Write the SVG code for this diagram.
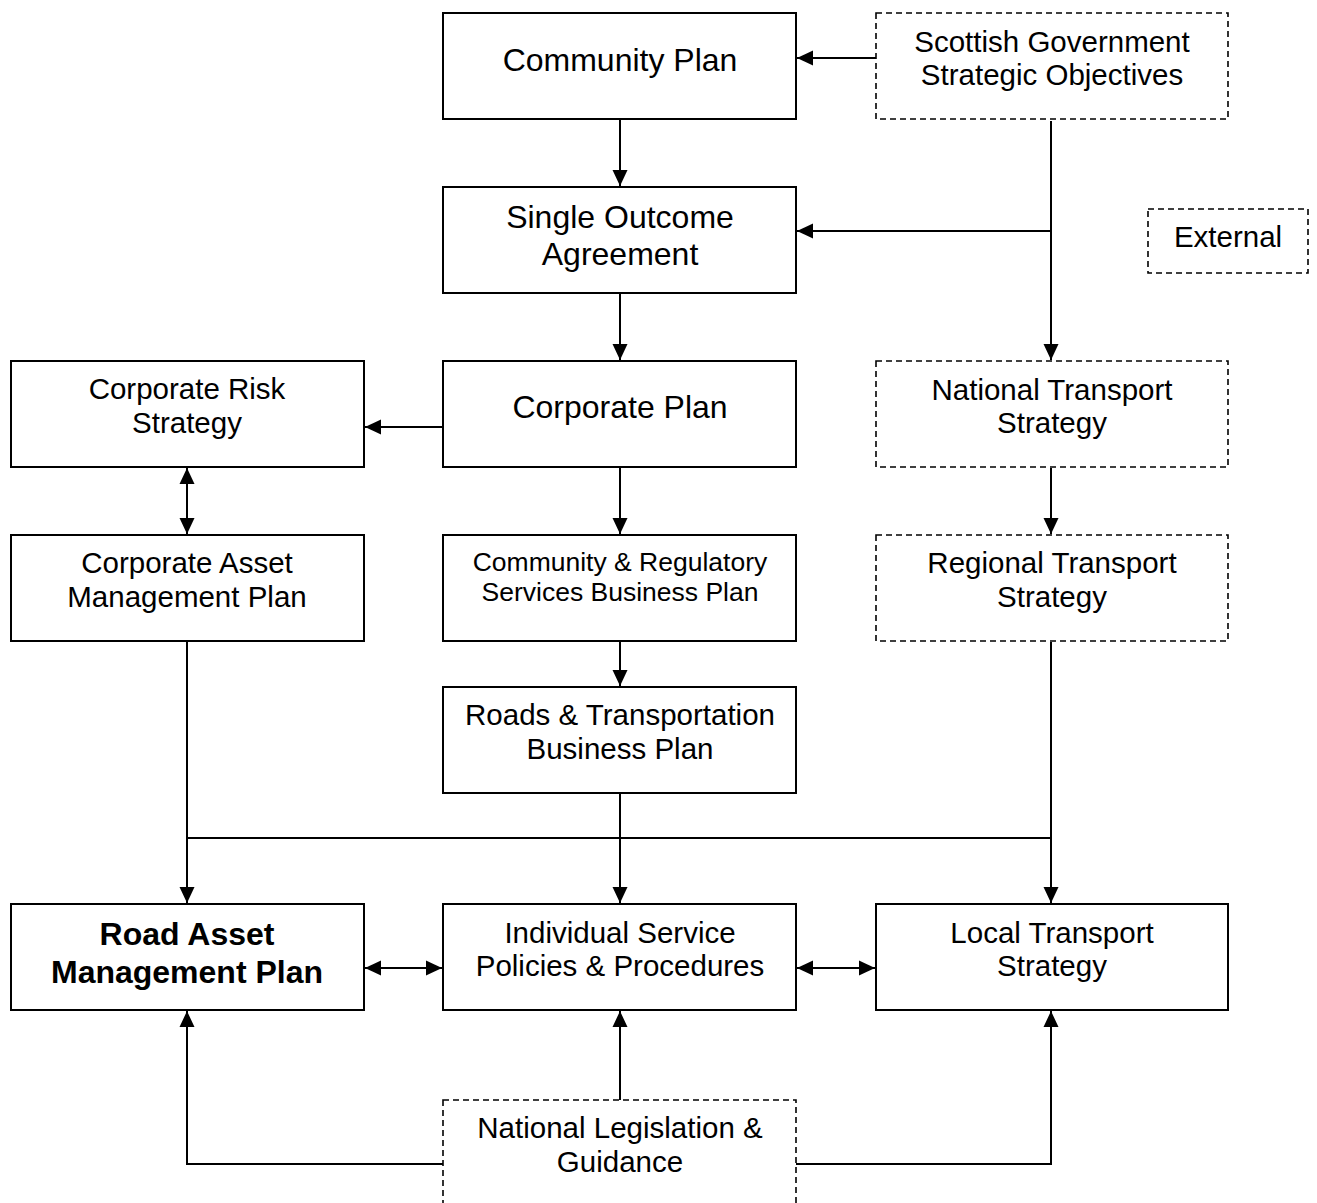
<svg xmlns="http://www.w3.org/2000/svg" width="1317" height="1203" viewBox="0 0 1317 1203">
<style>
.box{fill:#fff;stroke:#000;stroke-width:2}
.ext{fill:#fff;stroke:#000;stroke-width:1.6;stroke-dasharray:6 4}
.t{font-family:"Liberation Sans",Arial,sans-serif;font-size:29.5px;fill:#000;text-anchor:middle}
.big{font-size:32px}
.sm{font-size:26.5px}
.b{font-weight:bold}
.c{fill:none;stroke:#000;stroke-width:2}
.a{marker-end:url(#ah)}
.d{marker-start:url(#ah);marker-end:url(#ah)}
</style>
<defs>
<marker id="ah" markerUnits="userSpaceOnUse" markerWidth="17" markerHeight="16" refX="16" refY="8" orient="auto-start-reverse" viewBox="0 0 17 16">
<path d="M0,0.5 L16,8 L0,15.5 Z" fill="#000"/>
</marker>
</defs>
<rect width="1317" height="1203" fill="#fff"/>
<g id="connectors">
<path class="c a" d="M876,58 H797"/>
<path class="c a" d="M620,120 V186"/>
<path class="c a" d="M1051,121 V360"/>
<path class="c a" d="M1051,231 H797"/>
<path class="c a" d="M620,294 V360"/>
<path class="c a" d="M443,427 H365"/>
<path class="c a" d="M620,468 V534"/>
<path class="c d" d="M187,468 V534"/>
<path class="c a" d="M1051,468 V534"/>
<path class="c a" d="M620,642 V686"/>
<path class="c a" d="M187,642 V903"/>
<path class="c" d="M187,838 H1051"/>
<path class="c a" d="M620,794 V903"/>
<path class="c a" d="M1051,642 V903"/>
<path class="c d" d="M365,968 H442"/>
<path class="c d" d="M797,968 H875"/>
<path class="c a" d="M620,1100 V1011"/>
<path class="c a" d="M443,1164 H187 V1011"/>
<path class="c a" d="M796,1164 H1051 V1011"/>
</g>
<g id="community-plan">
<rect class="box" x="443" y="13" width="353" height="106"/>
<text class="t big" x="620" y="71">Community Plan</text>
</g>
<g id="scottish-government">
<rect class="ext" x="876" y="13" width="352" height="106"/>
<text class="t" x="1052" y="52">Scottish Government</text>
<text class="t" x="1052" y="85">Strategic Objectives</text>
</g>
<g id="external">
<rect class="ext" x="1148" y="209" width="160" height="64"/>
<text class="t" x="1228" y="247">External</text>
</g>
<g id="single-outcome">
<rect class="box" x="443" y="187" width="353" height="106"/>
<text class="t big" x="620" y="228">Single Outcome</text>
<text class="t big" x="620" y="265">Agreement</text>
</g>
<g id="corporate-plan">
<rect class="box" x="443" y="361" width="353" height="106"/>
<text class="t big" x="620" y="418">Corporate Plan</text>
</g>
<g id="corporate-risk">
<rect class="box" x="11" y="361" width="353" height="106"/>
<text class="t" x="187" y="399">Corporate Risk</text>
<text class="t" x="187" y="433">Strategy</text>
</g>
<g id="national-transport">
<rect class="ext" x="876" y="361" width="352" height="106"/>
<text class="t" x="1052" y="400">National Transport</text>
<text class="t" x="1052" y="433">Strategy</text>
</g>
<g id="corporate-asset">
<rect class="box" x="11" y="535" width="353" height="106"/>
<text class="t" x="187" y="573">Corporate Asset</text>
<text class="t" x="187" y="607">Management Plan</text>
</g>
<g id="community-regulatory">
<rect class="box" x="443" y="535" width="353" height="106"/>
<text class="t sm" x="620" y="571">Community &amp; Regulatory</text>
<text class="t sm" x="620" y="601">Services Business Plan</text>
</g>
<g id="regional-transport">
<rect class="ext" x="876" y="535" width="352" height="106"/>
<text class="t" x="1052" y="573">Regional Transport</text>
<text class="t" x="1052" y="607">Strategy</text>
</g>
<g id="roads-transportation">
<rect class="box" x="443" y="687" width="353" height="106"/>
<text class="t" x="620" y="725">Roads &amp; Transportation</text>
<text class="t" x="620" y="759">Business Plan</text>
</g>
<g id="road-asset">
<rect class="box" x="11" y="904" width="353" height="106"/>
<text class="t big b" x="187" y="945">Road Asset</text>
<text class="t big b" x="187" y="983">Management Plan</text>
</g>
<g id="individual-service">
<rect class="box" x="443" y="904" width="353" height="106"/>
<text class="t" x="620" y="943">Individual Service</text>
<text class="t" x="620" y="976">Policies &amp; Procedures</text>
</g>
<g id="local-transport">
<rect class="box" x="876" y="904" width="352" height="106"/>
<text class="t" x="1052" y="943">Local Transport</text>
<text class="t" x="1052" y="976">Strategy</text>
</g>
<g id="national-legislation">
<rect class="ext" x="443" y="1100" width="353" height="110"/>
<text class="t" x="620" y="1138">National Legislation &amp;</text>
<text class="t" x="620" y="1172">Guidance</text>
</g>
</svg>
